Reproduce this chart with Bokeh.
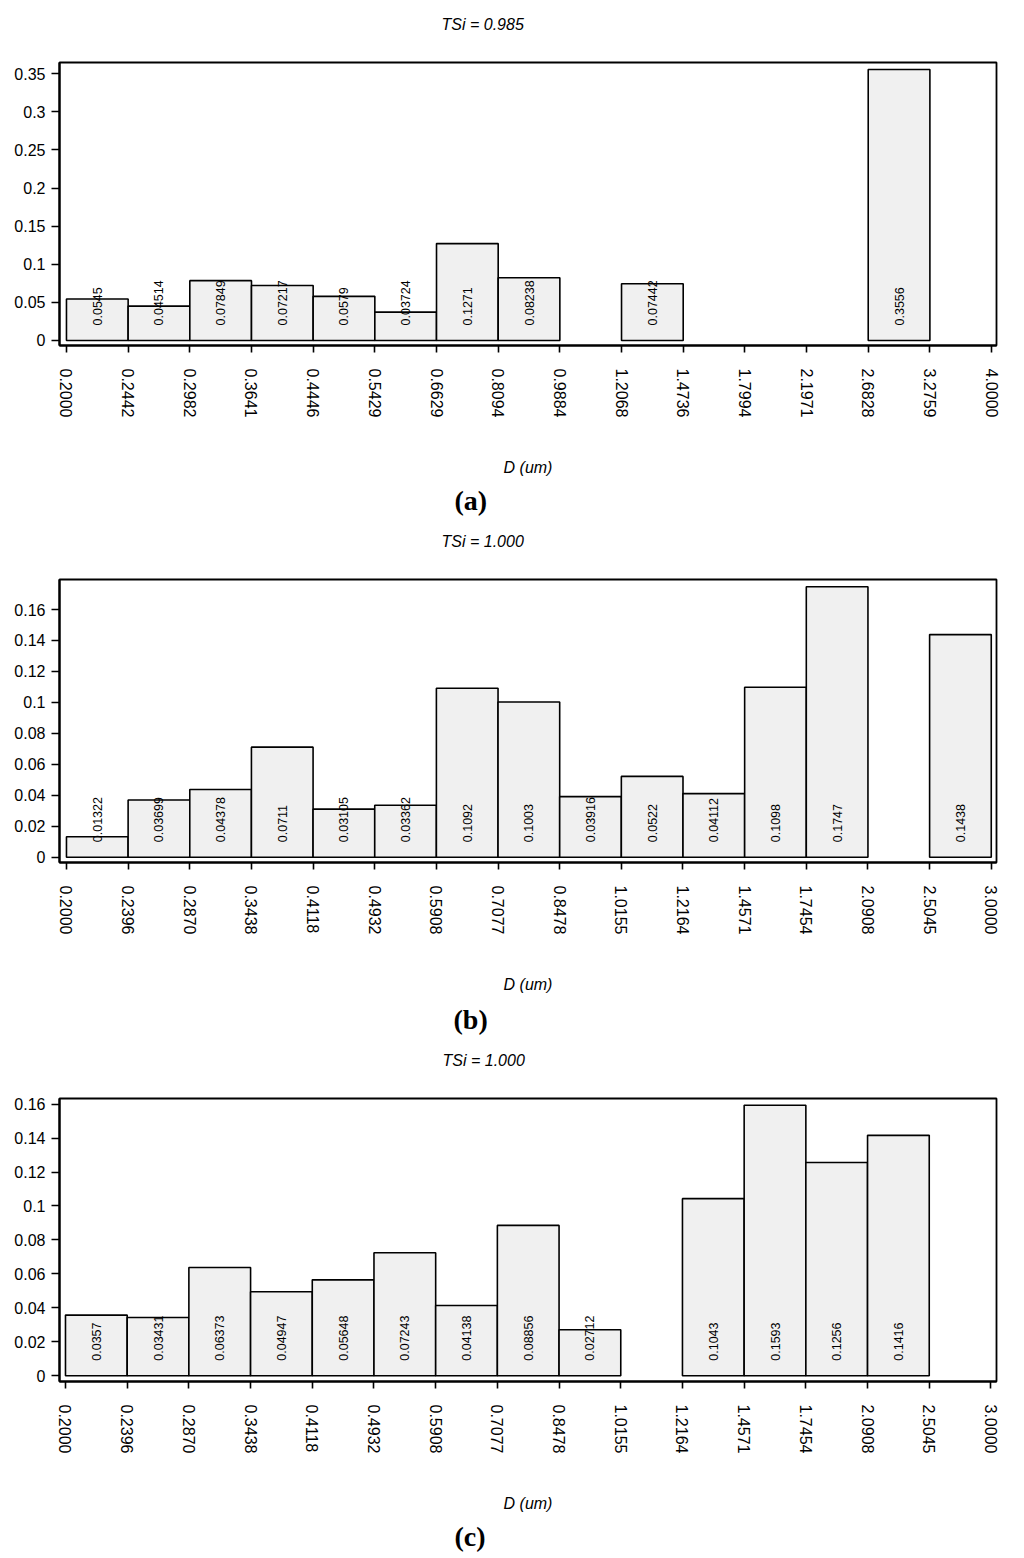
import math
from bokeh.plotting import figure
from bokeh.models import Range1d, FixedTicker, Title, CustomJSTickFormatter, ColumnDataSource
from bokeh.layouts import column
from bokeh.embed import file_html
from bokeh.resources import INLINE
from bokeh.core.properties import value

# ---------------- data ----------------
titles = ["TSi = 0.985", "TSi = 1.000", "TSi = 1.000"]
panel_tags = ["(a)", "(b)", "(c)"]
x_label = "D (um)"

edges_a = ["0.2000", "0.2442", "0.2982", "0.3641", "0.4446", "0.5429", "0.6629", "0.8094",
           "0.9884", "1.2068", "1.4736", "1.7994", "2.1971", "2.6828", "3.2759", "4.0000"]
edges_b = ["0.2000", "0.2396", "0.2870", "0.3438", "0.4118", "0.4932", "0.5908", "0.7077",
           "0.8478", "1.0155", "1.2164", "1.4571", "1.7454", "2.0908", "2.5045", "3.0000"]
edges_c = ["0.2000", "0.2396", "0.2870", "0.3438", "0.4118", "0.4932", "0.5908", "0.7077",
           "0.8478", "1.0155", "1.2164", "1.4571", "1.7454", "2.0908", "2.5045", "3.0000"]

# fraction per size bin (None = empty bin)
vals_a = [0.0545, 0.04514, 0.07849, 0.07217, 0.0579, 0.03724, 0.1271, 0.08238,
          None, 0.07442, None, None, None, 0.3556, None]
vals_b = [0.01322, 0.03699, 0.04378, 0.0711, 0.03105, 0.03362, 0.1092, 0.1003,
          0.03916, 0.0522, 0.04112, 0.1098, 0.1747, None, 0.1438]
vals_c = [0.0357, 0.03431, 0.06373, 0.04947, 0.05648, 0.07243, 0.04138, 0.08856,
          0.02712, None, 0.1043, 0.1593, 0.1256, 0.1416, None]

yticks_a = [0, 0.05, 0.1, 0.15, 0.2, 0.25, 0.3, 0.35]
yticks_b = [0, 0.02, 0.04, 0.06, 0.08, 0.1, 0.12, 0.14, 0.16]
yticks_c = [0, 0.02, 0.04, 0.06, 0.08, 0.1, 0.12, 0.14, 0.16]

FONT = "Liberation Sans"


def make_panel(title, tag, edges, vals, yticks, xr, yr, frame_w, b_left, b_top, b_bottom, b_right,
               title_off, tag_off, tag_standoff):
    frame_h = 283
    p = figure(width=b_left + frame_w + b_right, height=b_top + frame_h + b_bottom,
               x_range=Range1d(*xr), y_range=Range1d(*yr), title=None,
               output_backend="svg", toolbar_location=None,
               min_border_left=b_left, min_border_right=b_right,
               min_border_top=b_top, min_border_bottom=b_bottom)
    p.background_fill_color = "white"
    p.border_fill_color = "white"
    p.outline_line_color = "black"
    p.outline_line_width = 1.8
    p.xgrid.visible = False
    p.ygrid.visible = False

    idx = [i for i, v in enumerate(vals) if v is not None]
    src = ColumnDataSource(dict(
        left=[i for i in idx],
        right=[i + 1 for i in idx],
        top=[vals[i] for i in idx],
        xc=[i + 0.5 for i in idx],
        y0=[0.0 for _ in idx],
        lab=[repr(vals[i]) for i in idx],
    ))
    p.quad(left="left", right="right", bottom=0, top="top", source=src,
           fill_color="#f0f0f0", line_color="black", line_width=1.6)
    p.text(x="xc", y="y0", text="lab", source=src, angle=math.pi / 2,
           text_align="left", text_baseline="middle", y_offset=-15,
           text_font=value(FONT), text_font_size="12.5px", text_color="black")

    # x axis
    xa = p.xaxis[0]
    xa.ticker = FixedTicker(ticks=list(range(len(edges))))
    xa.major_label_overrides = {i: lab for i, lab in enumerate(edges)}
    xa.major_label_orientation = "vertical"
    xa.major_label_text_font = FONT
    xa.major_label_text_font_size = "16px"
    xa.major_label_text_color = "black"
    xa.major_label_standoff = 16
    xa.major_tick_out = 7
    xa.major_tick_in = 0
    xa.minor_tick_out = 0
    xa.minor_tick_in = 0
    xa.axis_line_width = 2.2
    xa.major_tick_line_width = 1.6
    xa.axis_label = x_label
    xa.axis_label_text_font = FONT
    xa.axis_label_text_font_style = "italic"
    xa.axis_label_text_font_size = "16px"
    xa.axis_label_text_color = "black"
    xa.axis_label_standoff = 39

    # y axis
    ya = p.yaxis[0]
    ya.ticker = FixedTicker(ticks=yticks)
    ya.formatter = CustomJSTickFormatter(code="return String(parseFloat(tick.toFixed(4)));")
    ya.major_label_text_font = FONT
    ya.major_label_text_font_size = "16px"
    ya.major_label_text_color = "black"
    ya.major_label_standoff = 6
    ya.major_tick_out = 8
    ya.major_tick_in = 0
    ya.minor_tick_out = 0
    ya.minor_tick_in = 0
    ya.axis_line_width = 2.2
    ya.major_tick_line_width = 1.6

    # spacer (closest to frame) then the panel title above it
    p.add_layout(Title(text=" ", text_font=FONT, text_font_size="16px", standoff=11), "above")
    p.add_layout(Title(text=title, text_font=FONT, text_font_style="italic",
                       text_font_size="16px", text_color="black", align="left",
                       offset=title_off, standoff=0), "above")
    # panel tag below the x axis
    p.add_layout(Title(text=tag, text_font="Liberation Serif", text_font_style="bold",
                       text_font_size="28px", text_color="black", align="left",
                       offset=tag_off, standoff=tag_standoff), "below")
    return p


pa = make_panel(titles[0], panel_tags[0], edges_a, vals_a, yticks_a,
                (-0.113, 15.08), (-0.0066, 0.3648), 941, 58, 62, 180, 15, 382, 395, 6)
pb = make_panel(titles[1], panel_tags[1], edges_b, vals_b, yticks_b,
                (-0.113, 15.085), (-0.0034, 0.1794), 940, 59, 54, 182, 15, 382, 394, 10)
pc = make_panel(titles[2], panel_tags[2], edges_c, vals_c, yticks_c,
                (-0.097, 15.09), (-0.0034, 0.1633), 938, 58, 54, 175, 18, 383, 395, 6)

layout = column(pa, pb, pc, spacing=0)
open("out.html", "w").write(file_html(layout, INLINE))
